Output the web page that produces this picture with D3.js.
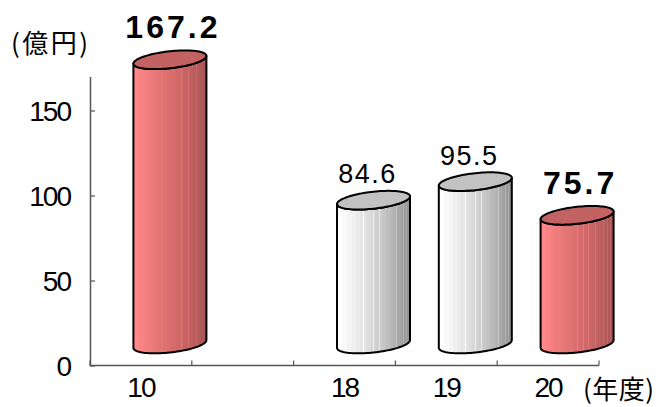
<!DOCTYPE html>
<html>
<head>
<meta charset="utf-8">
<script src="https://cdn.jsdelivr.net/npm/d3@7"></script>
<style>
  html, body { margin: 0; padding: 0; background: #fff; }
  svg { display: block; }
  text { font-family: "Liberation Sans", Arial, sans-serif; fill: #000; }
  .cjk { font-family: "Noto Sans CJK JP", "Liberation Sans", sans-serif; }
</style>
</head>
<body>
<svg id="chart" width="667" height="407"></svg>
<script>
// ---- data ----
const categories = ["10", "", "18", "19", "20"];
const values = [167.2, null, 84.6, 95.5, 75.7];
const highlighted = ["10", "20"];
const yTicks = [0, 50, 100, 150];
const yUnit = "(億円)";
const xUnit = "(年度)";

// ---- layout ----
const svg = d3.select("#chart");
const x = d3.scaleBand().domain(categories).range([90, 599]).padding(0);
const y = d3.scaleLinear().domain([0, 170]).range([365.5, 76.5]);
const bw = x.bandwidth();
const depthX = 29, depthY = -21.5;
const rx = 36.5, ry = 8.5, shear = 3.85;

// ---- gradients ----
const defs = svg.append("defs");
function makeGrad(id, colors) {
  const interp = d3.interpolateRgbBasis(colors);
  const g = defs.append("linearGradient").attr("id", id)
    .attr("x1", 0).attr("x2", 1).attr("y1", 0).attr("y2", 0);
  const steps = [0, .07, .14, .2, .26, .31, .36, .41, .46, .5, .54, .58, .62, .655, .69, .72, .75, .78, .81, .835, .86, .885, .91, .93, .95, .97, .985, 1];
  const lights = new Set([5, 8, 10, 12, 15, 17, 19, 21, 23]);
  for (let i = 0; i < steps.length - 1; i++) {
    const c = d3.color(interp(steps[i]));
    g.append("stop").attr("offset", steps[i]).attr("stop-color", c);
    g.append("stop").attr("offset", steps[i + 1]).attr("stop-color", c);
    if (lights.has(i)) {
      const lc = c.brighter(0.3);
      g.append("stop").attr("offset", steps[i + 1]).attr("stop-color", lc);
      g.append("stop").attr("offset", Math.min(1, steps[i + 1] + 0.008)).attr("stop-color", lc);
    }
  }
}
makeGrad("redGrad", ["#ff8787", "#e47474", "#cc6666", "#a45555"]);
makeGrad("greyGrad", ["#ffffff", "#e4e4e4", "#c4c4c4", "#8e8e8e"]);

// ---- axes ----
const yAxis = d3.axisLeft(y).tickValues(yTicks).tickSize(-5).tickSizeOuter(0).tickPadding(20);
const gy = svg.append("g").attr("transform", "translate(90,0)").call(yAxis);
gy.select(".domain").attr("stroke", "#555").attr("stroke-width", 1.5);
gy.selectAll(".tick line").attr("stroke", "#555").attr("stroke-width", 1.2);
gy.selectAll(".tick text").attr("font-size", 28).attr("font-family", "Liberation Sans, Arial, sans-serif")
  .attr("letter-spacing", -2).attr("dy", "0.36em").attr("fill", "#000");

const gx = svg.append("g");
gx.append("line").attr("x1", x.range()[0]).attr("x2", x.range()[1])
  .attr("y1", y(0)).attr("y2", y(0)).attr("stroke", "#555").attr("stroke-width", 1.5);
const bounds = categories.map(c => x(c)).concat([x(categories[categories.length - 1]) + bw]);
gx.selectAll("line.tk").data(bounds).join("line").attr("class", "tk")
  .attr("x1", d => d).attr("x2", d => d).attr("y1", y(0)).attr("y2", y(0) - 5)
  .attr("stroke", "#555").attr("stroke-width", 1.2);
gx.selectAll("text").data(categories).join("text")
  .attr("x", d => x(d) + bw / 2).attr("y", 397)
  .attr("text-anchor", "middle").attr("font-size", 28).attr("letter-spacing", -2)
  .text(d => d);

svg.append("text").attr("class", "cjk").attr("x", 11).attr("y", 53)
  .attr("font-size", 26).attr("letter-spacing", 2.5).text(yUnit);
svg.append("text").attr("class", "cjk").attr("x", 583).attr("y", 399)
  .attr("font-size", 26).attr("letter-spacing", 0.5).text(xUnit);

// ---- cylinders ----
function ell(cx, cy, t) { return [cx + rx * Math.cos(t), cy + ry * Math.sin(t) - shear * Math.cos(t)]; }
const N = 48;
const line = d3.line();
const bars = categories.map((c, i) => ({ c, v: values[i] })).filter(d => d.v != null);
const gb = svg.append("g");
bars.forEach(d => {
  const hi = highlighted.includes(d.c);
  const cx = x(d.c) + bw / 2 + depthX;
  const topY = y(d.v) + depthY;
  const botY = y(0) + depthY;
  const pts = [];
  for (let k = 0; k <= N; k++) pts.push(ell(cx, topY, Math.PI * k / N));
  for (let k = 0; k <= N; k++) pts.push(ell(cx, botY, Math.PI - Math.PI * k / N));
  gb.append("path").attr("d", line(pts) + "Z")
    .attr("fill", hi ? "url(#redGrad)" : "url(#greyGrad)")
    .attr("stroke", "#000").attr("stroke-width", 2).attr("stroke-linejoin", "round");
  const tp = [];
  for (let k = 0; k <= 2 * N; k++) tp.push(ell(cx, topY, 2 * Math.PI * k / (2 * N)));
  gb.append("path").attr("d", line(tp) + "Z")
    .attr("fill", hi ? "#c26262" : "#c2c2c2")
    .attr("stroke", "#000").attr("stroke-width", 2);
  // value label
  const t = gb.append("text").attr("text-anchor", "middle");
  if (hi) {
    t.attr("x", cx + 3).attr("y", topY - ry - 13).attr("font-size", 32)
      .attr("font-weight", "bold").attr("letter-spacing", 3);
  } else {
    t.attr("x", cx - 6).attr("y", topY - ry - 8.5).attr("font-size", 27)
      .attr("letter-spacing", 1.5);
  }
  t.text(d3.format(".1f")(d.v));
});
</script>
</body>
</html>
